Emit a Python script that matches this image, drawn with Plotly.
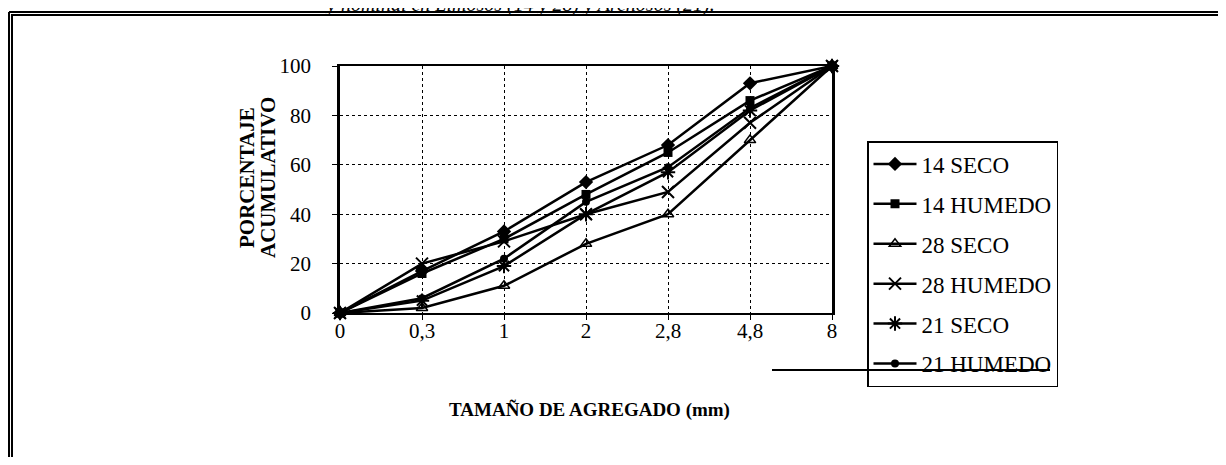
import plotly.graph_objects as go

W, H = 1226, 465
OFF = 8  # default page margin of the html body
# plot area in page pixels (left, right, top, bottom)
PL, PR, PT, PB = 340, 832, 66, 313

SIZES = ["0", "0,3", "1", "2", "2,8", "4,8", "8"]

SECO_14 = [0, 17, 33, 53, 68, 93, 100]
HUMEDO_14 = [0, 16, 30, 48, 65, 86, 100]
SECO_28 = [0, 2, 11, 28, 40, 70, 100]
HUMEDO_28 = [0, 20, 29, 40, 49, 77, 100]
SECO_21 = [0, 5, 19, 40, 57, 82, 100]
HUMEDO_21 = [0, 6, 22, 45, 59, 83, 100]

SERIES = [
    ("14 SECO", SECO_14, dict(symbol="diamond", size=11, color="black")),
    ("14 HUMEDO", HUMEDO_14, dict(symbol="square", size=9, color="black")),
    ("28 SECO", SECO_28, dict(symbol="triangle-up-open", size=10, color="black", line=dict(width=1.5))),
    ("28 HUMEDO", HUMEDO_28, dict(symbol="x-thin-open", size=12, color="black", line=dict(width=2, color="black"))),
    ("21 SECO", SECO_21, dict(symbol="asterisk-open", size=12, color="black", line=dict(width=2, color="black"))),
    ("21 HUMEDO", HUMEDO_21, dict(symbol="circle", size=8, color="black")),
]


def px(x):
    return (x - PL) / (PR - PL)


def py(y):
    return (PB - y) / (PB - PT)


fig = go.Figure()
for i, (name, vals, marker) in enumerate(SERIES):
    fig.add_trace(
        go.Scatter(
            x=SIZES,
            y=vals,
            name=name,
            mode="lines+markers",
            line=dict(color="black", width=2.5),
            marker=marker,
            legendgroup=f"g{i}",
            cliponaxis=False,
        )
    )

serif = "Liberation Serif"

# page is W x H but the body keeps an 8px margin on every side
fig.update_layout(
    width=W - OFF,
    height=H - 2 * OFF,
    margin=dict(l=PL - OFF, r=W - PR, t=PT - OFF, b=H - OFF - PB),
    paper_bgcolor="white",
    plot_bgcolor="white",
    font=dict(family=serif, size=21, color="black"),
    showlegend=True,
    legend=dict(
        x=px(867),
        y=py(141),
        xanchor="left",
        yanchor="top",
        bordercolor="black",
        borderwidth=1.5,
        bgcolor="rgba(0,0,0,0)",
        font=dict(family=serif, size=23, color="black"),
        tracegroupgap=7,
        itemwidth=43,
        maxheight=400,
    ),
    xaxis=dict(
        type="category",
        categoryorder="array",
        categoryarray=SIZES,
        range=[0, 6],
        showgrid=True,
        gridcolor="black",
        griddash="dot",
        gridwidth=1,
        showline=True,
        linecolor="black",
        linewidth=2,
        mirror=True,
        ticks="outside",
        ticklen=5,
        tickcolor="black",
        ticklabelstandoff=-7,
        zeroline=False,
    ),
    yaxis=dict(
        range=[0, 100],
        tickvals=[0, 20, 40, 60, 80, 100],
        showgrid=True,
        gridcolor="black",
        griddash="dot",
        gridwidth=1,
        showline=True,
        linecolor="black",
        linewidth=2.5,
        mirror=True,
        ticks="outside",
        ticklen=5,
        tickcolor="black",
        ticklabelstandoff=17,
        zeroline=False,
    ),
)

# axis titles
title_font = dict(family=serif, size=21, color="black", weight="bold")
for xx, txt in [(247, "PORCENTAJE"), (268, "ACUMULATIVO")]:
    fig.add_annotation(
        x=px(xx), y=py(178), xref="paper", yref="paper", xanchor="center", yanchor="middle",
        text=txt, textangle=-90, showarrow=False, font=title_font,
    )
fig.add_annotation(
    x=px(589), y=py(410), xref="paper", yref="paper", xanchor="center", yanchor="middle",
    text="TAMAÑO DE AGREGADO (mm)", showarrow=False,
    font=dict(family=serif, size=19, color="black", weight="bold"),
)
# caption of the scanned page, cut off at the top edge
fig.add_annotation(
    x=px(520), y=py(4), xref="paper", yref="paper", xanchor="center", yanchor="middle",
    text="y nominal en Limosos (14 y 28) y Arenosos (21).", showarrow=False,
    font=dict(family=serif, size=20, color="black", style="italic"),
)

# outer frame of the scanned page
frame = dict(type="line", xref="paper", yref="paper", line=dict(color="black", width=2))
fig.add_shape(**frame, x0=px(9), x1=px(1221), y0=py(12), y1=py(12))
fig.add_shape(**frame, x0=px(11), x1=px(1221), y0=py(15), y1=py(15))
fig.add_shape(**frame, x0=px(9), x1=px(9), y0=py(12), y1=py(H - OFF))
fig.add_shape(**frame, x0=px(12), x1=px(12), y0=py(15), y1=py(H - OFF))
fig.add_shape(**frame, x0=px(1220), x1=px(1220), y0=py(12), y1=py(H - OFF))
# stray line through the last legend entry
fig.add_shape(**frame, x0=px(772), x1=px(1050), y0=py(370), y1=py(370))

fig.write_html("out.html")
